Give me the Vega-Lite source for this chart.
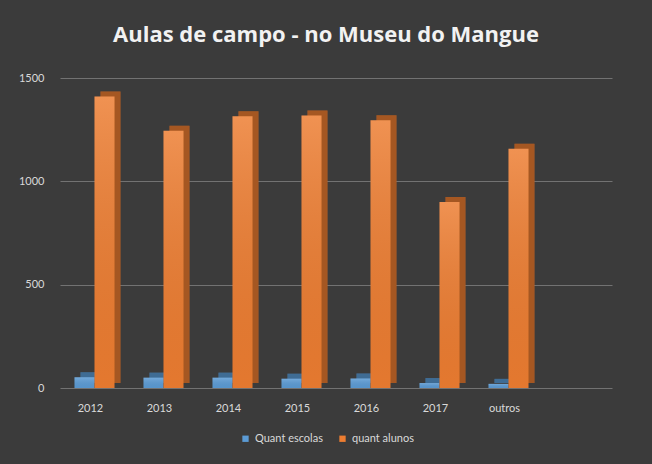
{
  "$schema": "https://vega.github.io/schema/vega-lite/v6.json",
  "width": 552,
  "height": 310,
  "autosize": {"type": "none"},
  "padding": {"left": 60, "top": 78, "right": 40, "bottom": 76},
  "background": "#3b3b3b",
  "title": {
    "text": "Aulas de campo - no Museu do Mangue",
    "anchor": "middle",
    "dx": -10,
    "offset": 25,
    "font": "Open Sans",
    "fontSize": 22,
    "fontWeight": "bold",
    "color": "#f2f2f2"
  },
  "data": {
    "values": [
      {"cat": "2012", "serie": "Quant escolas", "valor": 52},
      {"cat": "2012", "serie": "quant alunos", "valor": 1410},
      {"cat": "2013", "serie": "Quant escolas", "valor": 50},
      {"cat": "2013", "serie": "quant alunos", "valor": 1245},
      {"cat": "2014", "serie": "Quant escolas", "valor": 50},
      {"cat": "2014", "serie": "quant alunos", "valor": 1315},
      {"cat": "2015", "serie": "Quant escolas", "valor": 45},
      {"cat": "2015", "serie": "quant alunos", "valor": 1318},
      {"cat": "2016", "serie": "Quant escolas", "valor": 46},
      {"cat": "2016", "serie": "quant alunos", "valor": 1295},
      {"cat": "2017", "serie": "Quant escolas", "valor": 24},
      {"cat": "2017", "serie": "quant alunos", "valor": 900},
      {"cat": "outros", "serie": "Quant escolas", "valor": 20},
      {"cat": "outros", "serie": "quant alunos", "valor": 1158}
    ]
  },
  "encoding": {
    "x": {
      "field": "cat",
      "type": "nominal",
      "scale": {"domain": ["2012", "2013", "2014", "2015", "2016", "2017", "outros", " "], "paddingInner": 0.42, "paddingOuter": 0.21},
      "axis": {"title": null, "labelAngle": 0, "domain": false, "ticks": false, "labelPadding": 14, "labelFont": "Lato", "labelFontSize": 11, "labelColor": "#d9d9d9", "labelOffset": -4}
    },
    "y": {
      "field": "valor",
      "type": "quantitative",
      "scale": {"domain": [0, 1500], "nice": false},
      "axis": {"title": null, "values": [0, 500, 1000, 1500], "format": "d", "domain": false, "ticks": false, "grid": true, "gridColor": "#727272", "gridWidth": 1, "labelPadding": 16, "labelFont": "Lato", "labelFontSize": 11, "labelColor": "#d9d9d9"}
    },
    "color": {
      "field": "serie",
      "type": "nominal",
      "scale": {"domain": ["Quant escolas", "quant alunos"], "range": ["#5b9bd5", "#ed7d31"]},
      "legend": {
        "title": null,
        "orient": "none",
        "legendX": 180,
        "legendY": 355,
        "padding": 0,
        "direction": "horizontal",
        "symbolType": "square",
        "symbolSize": 40,
        "symbolStrokeWidth": 0,
        "labelFont": "Lato",
        "labelFontSize": 11,
        "labelColor": "#d9d9d9",
        "labelOffset": 4,
        "columnPadding": 14
      }
    }
  },
  "layer": [
    {
      "mark": {"type": "bar", "yOffset": -5, "y2Offset": -5},
      "encoding": {
        "xOffset": {"field": "serie", "type": "nominal", "scale": {"domain": ["Quant escolas", "quant alunos"], "range": [6, 46], "paddingInner": 0}}
      }
    },
    {
      "mark": {"type": "bar", "color": "#000000", "opacity": 0.3, "yOffset": -5, "y2Offset": -5},
      "encoding": {
        "color": null,
        "xOffset": {"field": "serie", "type": "nominal", "scale": {"domain": ["Quant escolas", "quant alunos"], "range": [6, 46], "paddingInner": 0}}
      }
    },
    {
      "mark": {"type": "bar"},
      "encoding": {
        "xOffset": {"field": "serie", "type": "nominal", "scale": {"domain": ["Quant escolas", "quant alunos"], "paddingInner": 0}}
      }
    },
    {
      "mark": {
        "type": "bar",
        "color": {
          "gradient": "linear",
          "x1": 0, "y1": 0, "x2": 0, "y2": 1,
          "stops": [
            {"offset": 0, "color": "rgba(255,255,255,0.16)"},
            {"offset": 1, "color": "rgba(0,0,0,0.04)"}
          ]
        }
      },
      "encoding": {
        "color": null,
        "xOffset": {"field": "serie", "type": "nominal", "scale": {"domain": ["Quant escolas", "quant alunos"], "paddingInner": 0}}
      }
    }
  ],
  "resolve": {"scale": {"xOffset": "independent"}},
  "config": {
    "view": {"stroke": null}
  }
}
